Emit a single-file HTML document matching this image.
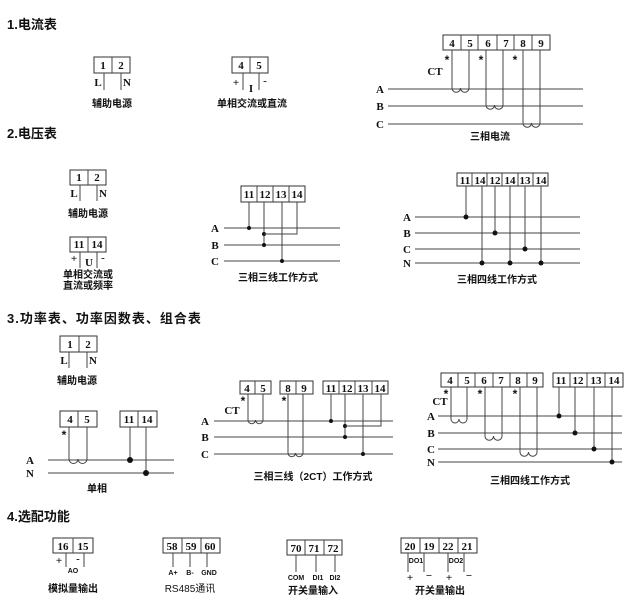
<!DOCTYPE html>
<html><head><meta charset="utf-8"><style>
html,body{margin:0;padding:0;background:#fff;}
svg{display:block;}
.t{font-family:"Liberation Sans","Noto Sans CJK SC",sans-serif;font-weight:bold;font-size:13px;fill:#111;}
.n{font-family:"Liberation Serif",serif;font-weight:bold;font-size:11px;fill:#111;text-anchor:middle;}
.a{font-family:"Liberation Sans",sans-serif;font-weight:bold;font-size:12px;fill:#111;text-anchor:middle;}
.c{font-family:"Liberation Sans","Noto Sans CJK SC",sans-serif;font-weight:bold;font-size:10px;fill:#111;text-anchor:middle;}
.s{font-family:"Liberation Sans",sans-serif;font-weight:bold;font-size:7px;fill:#111;text-anchor:middle;}
.b{fill:#fff;stroke:#333;stroke-width:1;}
.l{stroke:#444;stroke-width:1;fill:none;}
.d{fill:#111;}
</style></head><body>
<svg width="635" height="610" viewBox="0 0 635 610" xmlns="http://www.w3.org/2000/svg">
<text class="t" x="7" y="29">1.电流表</text>
<text class="t" x="7" y="138">2.电压表</text>
<text class="t" x="7" y="323" letter-spacing="1">3.功率表、功率因数表、组合表</text>
<text class="t" x="7" y="521">4.选配功能</text>

<rect class="b" x="94" y="57" width="36" height="16"/><line class="l" x1="112" y1="57" x2="112" y2="73"/>
<text class="n" x="103" y="69">1</text><text class="n" x="121" y="69">2</text>
<line class="l" x1="104" y1="73" x2="104" y2="90"/><line class="l" x1="121" y1="73" x2="121" y2="90"/>
<text class="n" x="98" y="86">L</text><text class="n" x="127" y="86">N</text>
<text class="c" x="112" y="107">辅助电源</text>
<rect class="b" x="232" y="57" width="36" height="16"/><line class="l" x1="250" y1="57" x2="250" y2="73"/>
<text class="n" x="241" y="69">4</text><text class="n" x="259" y="69">5</text>
<line class="l" x1="243" y1="73" x2="243" y2="90"/><line class="l" x1="259" y1="73" x2="259" y2="90"/>
<text class="n" x="236" y="86">+</text><text class="n" x="251" y="92">I</text><text class="n" x="265" y="84">-</text>
<text class="c" x="252" y="107">单相交流或直流</text>
<rect class="b" x="443" y="35" width="107" height="15"/>
<line class="l" x1="461" y1="35" x2="461" y2="50"/><line class="l" x1="478" y1="35" x2="478" y2="50"/><line class="l" x1="497" y1="35" x2="497" y2="50"/><line class="l" x1="514" y1="35" x2="514" y2="50"/><line class="l" x1="532" y1="35" x2="532" y2="50"/>
<text class="n" x="452" y="47">4</text><text class="n" x="470" y="47">5</text><text class="n" x="488" y="47">6</text><text class="n" x="506" y="47">7</text><text class="n" x="523" y="47">8</text><text class="n" x="541" y="47">9</text>
<text class="a" x="447" y="64">*</text><text class="a" x="481" y="64">*</text><text class="a" x="515" y="64">*</text>
<text class="n" x="435" y="75">CT</text>
<line class="l" x1="388" y1="89" x2="583" y2="89"/><line class="l" x1="388" y1="106" x2="583" y2="106"/><line class="l" x1="388" y1="124" x2="583" y2="124"/>
<text class="n" x="380" y="93">A</text><text class="n" x="380" y="110">B</text><text class="n" x="380" y="128">C</text>
<path class="l" d="M452 50 V88 a4.25 4.25 0 0 0 8.5 0 a4.25 4.25 0 0 0 8.5 0 V50"/>
<path class="l" d="M486 50 V105 a4.25 4.25 0 0 0 8.5 0 a4.25 4.25 0 0 0 8.5 0 V50"/>
<path class="l" d="M523 50 V123 a4.25 4.25 0 0 0 8.5 0 a4.25 4.25 0 0 0 8.5 0 V50"/>
<text class="c" x="490" y="140">三相电流</text>

<rect class="b" x="70" y="170" width="36" height="15"/><line class="l" x1="88" y1="170" x2="88" y2="185"/>
<text class="n" x="79" y="181">1</text><text class="n" x="97" y="181">2</text>
<line class="l" x1="80" y1="185" x2="80" y2="201"/><line class="l" x1="97" y1="185" x2="97" y2="201"/>
<text class="n" x="74" y="197">L</text><text class="n" x="103" y="197">N</text>
<text class="c" x="88" y="217">辅助电源</text>
<rect class="b" x="70" y="237" width="36" height="15"/><line class="l" x1="88" y1="237" x2="88" y2="252"/>
<text class="n" x="79" y="248">11</text><text class="n" x="97" y="248">14</text>
<line class="l" x1="80" y1="252" x2="80" y2="268"/><line class="l" x1="97" y1="252" x2="97" y2="268"/>
<text class="n" x="74" y="262">+</text><text class="n" x="89" y="266">U</text><text class="n" x="103" y="261">-</text>
<text class="c" x="88" y="278">单相交流或</text><text class="c" x="88" y="289">直流或频率</text>
<rect class="b" x="241" y="186" width="64" height="16"/>
<line class="l" x1="257" y1="186" x2="257" y2="202"/><line class="l" x1="273" y1="186" x2="273" y2="202"/><line class="l" x1="289" y1="186" x2="289" y2="202"/>
<text class="n" x="249" y="198">11</text><text class="n" x="265" y="198">12</text><text class="n" x="281" y="198">13</text><text class="n" x="297" y="198">14</text>
<line class="l" x1="224" y1="228" x2="340" y2="228"/><line class="l" x1="224" y1="245" x2="340" y2="245"/><line class="l" x1="224" y1="261" x2="340" y2="261"/>
<text class="n" x="215" y="232">A</text><text class="n" x="215" y="249">B</text><text class="n" x="215" y="265">C</text>
<line class="l" x1="249" y1="202" x2="249" y2="228"/><circle class="d" cx="249" cy="228" r="2"/>
<line class="l" x1="264" y1="202" x2="264" y2="245"/><circle class="d" cx="264" cy="234" r="2"/><circle class="d" cx="264" cy="245" r="2"/>
<path class="l" d="M297 202 V234 H264"/>
<line class="l" x1="282" y1="202" x2="282" y2="261"/><circle class="d" cx="282" cy="261" r="2"/>
<text class="c" x="278" y="281">三相三线工作方式</text>
<rect class="b" x="457" y="173" width="91" height="13"/>
<line class="l" x1="472" y1="173" x2="472" y2="186"/><line class="l" x1="487" y1="173" x2="487" y2="186"/><line class="l" x1="502" y1="173" x2="502" y2="186"/><line class="l" x1="518" y1="173" x2="518" y2="186"/><line class="l" x1="533" y1="173" x2="533" y2="186"/>
<text class="n" x="465" y="184">11</text><text class="n" x="480" y="184">14</text><text class="n" x="495" y="184">12</text><text class="n" x="510" y="184">14</text><text class="n" x="525" y="184">13</text><text class="n" x="541" y="184">14</text>
<line class="l" x1="415" y1="217" x2="580" y2="217"/><line class="l" x1="415" y1="233" x2="580" y2="233"/><line class="l" x1="415" y1="249" x2="580" y2="249"/><line class="l" x1="415" y1="263" x2="580" y2="263"/>
<text class="n" x="407" y="221">A</text><text class="n" x="407" y="237">B</text><text class="n" x="407" y="253">C</text><text class="n" x="407" y="267">N</text>
<line class="l" x1="466" y1="186" x2="466" y2="217"/><circle class="d" cx="466" cy="217" r="2.5"/>
<line class="l" x1="482" y1="186" x2="482" y2="263"/><circle class="d" cx="482" cy="263" r="2.5"/>
<line class="l" x1="495" y1="186" x2="495" y2="233"/><circle class="d" cx="495" cy="233" r="2.5"/>
<line class="l" x1="510" y1="186" x2="510" y2="263"/><circle class="d" cx="510" cy="263" r="2.5"/>
<line class="l" x1="525" y1="186" x2="525" y2="249"/><circle class="d" cx="525" cy="249" r="2.5"/>
<line class="l" x1="541" y1="186" x2="541" y2="263"/><circle class="d" cx="541" cy="263" r="2.5"/>
<text class="c" x="497" y="283">三相四线工作方式</text>

<rect class="b" x="60" y="336" width="37" height="16"/><line class="l" x1="79" y1="336" x2="79" y2="352"/>
<text class="n" x="70" y="348">1</text><text class="n" x="88" y="348">2</text>
<line class="l" x1="69" y1="352" x2="69" y2="368"/><line class="l" x1="87" y1="352" x2="87" y2="368"/>
<text class="n" x="64" y="364">L</text><text class="n" x="93" y="364">N</text>
<text class="c" x="77" y="384">辅助电源</text>
<rect class="b" x="60" y="411" width="37" height="16"/><line class="l" x1="78" y1="411" x2="78" y2="427"/>
<text class="n" x="70" y="423">4</text><text class="n" x="87" y="423">5</text>
<rect class="b" x="120" y="411" width="37" height="16"/><line class="l" x1="138" y1="411" x2="138" y2="427"/>
<text class="n" x="129" y="423">11</text><text class="n" x="147" y="423">14</text>
<text class="a" x="64" y="439">*</text>
<line class="l" x1="48" y1="460" x2="174" y2="460"/><line class="l" x1="48" y1="473" x2="174" y2="473"/>
<text class="n" x="30" y="464" font-size="12">A</text><text class="n" x="30" y="477" font-size="12">N</text>
<path class="l" d="M69 427 V459 a4.5 4.5 0 0 0 9 0 a4.5 4.5 0 0 0 9 0 V427"/>
<line class="l" x1="130" y1="427" x2="130" y2="460"/><circle class="d" cx="130" cy="460" r="3"/>
<line class="l" x1="146" y1="427" x2="146" y2="473"/><circle class="d" cx="146" cy="473" r="3"/>
<text class="c" x="97" y="492">单相</text>
<rect class="b" x="240" y="381" width="31" height="13"/><line class="l" x1="255" y1="381" x2="255" y2="394"/>
<text class="n" x="247" y="392">4</text><text class="n" x="263" y="392">5</text>
<rect class="b" x="280" y="381" width="33" height="13"/><line class="l" x1="296" y1="381" x2="296" y2="394"/>
<text class="n" x="288" y="392">8</text><text class="n" x="304" y="392">9</text>
<rect class="b" x="323" y="381" width="65" height="13"/>
<line class="l" x1="339" y1="381" x2="339" y2="394"/><line class="l" x1="355" y1="381" x2="355" y2="394"/><line class="l" x1="372" y1="381" x2="372" y2="394"/>
<text class="n" x="331" y="392">11</text><text class="n" x="347" y="392">12</text><text class="n" x="363" y="392">13</text><text class="n" x="380" y="392">14</text>
<text class="a" x="243" y="405">*</text><text class="a" x="284" y="405">*</text>
<text class="n" x="232" y="414">CT</text>
<line class="l" x1="214" y1="421" x2="393" y2="421"/><line class="l" x1="214" y1="437" x2="393" y2="437"/><line class="l" x1="214" y1="454" x2="393" y2="454"/>
<text class="n" x="205" y="425">A</text><text class="n" x="205" y="441">B</text><text class="n" x="205" y="458">C</text>
<path class="l" d="M248 394 V420 a3.75 3.75 0 0 0 7.5 0 a3.75 3.75 0 0 0 7.5 0 V394"/>
<path class="l" d="M288 394 V453 a3.75 3.75 0 0 0 7.5 0 a3.75 3.75 0 0 0 7.5 0 V394"/>
<line class="l" x1="331" y1="394" x2="331" y2="421"/><circle class="d" cx="331" cy="421" r="2"/>
<line class="l" x1="345" y1="394" x2="345" y2="437"/><circle class="d" cx="345" cy="426" r="2"/><circle class="d" cx="345" cy="437" r="2"/>
<path class="l" d="M381 394 V426 H345"/>
<line class="l" x1="363" y1="394" x2="363" y2="454"/><circle class="d" cx="363" cy="454" r="2"/>
<text class="c" x="313" y="480">三相三线（2CT）工作方式</text>
<rect class="b" x="441" y="373" width="102" height="14"/>
<line class="l" x1="458" y1="373" x2="458" y2="387"/><line class="l" x1="475" y1="373" x2="475" y2="387"/><line class="l" x1="493" y1="373" x2="493" y2="387"/><line class="l" x1="510" y1="373" x2="510" y2="387"/><line class="l" x1="527" y1="373" x2="527" y2="387"/>
<text class="n" x="450" y="384">4</text><text class="n" x="467" y="384">5</text><text class="n" x="484" y="384">6</text><text class="n" x="501" y="384">7</text><text class="n" x="518" y="384">8</text><text class="n" x="535" y="384">9</text>
<rect class="b" x="553" y="373" width="70" height="14"/>
<line class="l" x1="570" y1="373" x2="570" y2="387"/><line class="l" x1="587" y1="373" x2="587" y2="387"/><line class="l" x1="605" y1="373" x2="605" y2="387"/>
<text class="n" x="561" y="384">11</text><text class="n" x="578" y="384">12</text><text class="n" x="596" y="384">13</text><text class="n" x="614" y="384">14</text>
<text class="a" x="446" y="398">*</text><text class="a" x="480" y="398">*</text><text class="a" x="515" y="398">*</text>
<text class="n" x="440" y="405">CT</text>
<line class="l" x1="438" y1="416" x2="622" y2="416"/><line class="l" x1="438" y1="433" x2="622" y2="433"/><line class="l" x1="438" y1="449" x2="622" y2="449"/><line class="l" x1="438" y1="462" x2="622" y2="462"/>
<text class="n" x="431" y="420">A</text><text class="n" x="431" y="437">B</text><text class="n" x="431" y="453">C</text><text class="n" x="431" y="466">N</text>
<path class="l" d="M451 387 V419 a4 4 0 0 0 8 0 a4 4 0 0 0 8 0 V387"/>
<path class="l" d="M485 387 V436 a4.25 4.25 0 0 0 8.5 0 a4.25 4.25 0 0 0 8.5 0 V387"/>
<path class="l" d="M520 387 V452 a4.25 4.25 0 0 0 8.5 0 a4.25 4.25 0 0 0 8.5 0 V387"/>
<line class="l" x1="559" y1="387" x2="559" y2="416"/><circle class="d" cx="559" cy="416" r="2.5"/>
<line class="l" x1="575" y1="387" x2="575" y2="433"/><circle class="d" cx="575" cy="433" r="2.5"/>
<line class="l" x1="594" y1="387" x2="594" y2="449"/><circle class="d" cx="594" cy="449" r="2.5"/>
<line class="l" x1="612" y1="387" x2="612" y2="462"/><circle class="d" cx="612" cy="462" r="2.5"/>
<text class="c" x="530" y="484">三相四线工作方式</text>

<rect class="b" x="53" y="538" width="40" height="15"/><line class="l" x1="73" y1="538" x2="73" y2="553"/>
<text class="n" x="63" y="550">16</text><text class="n" x="83" y="550">15</text>
<line class="l" x1="66" y1="553" x2="66" y2="567"/><line class="l" x1="84" y1="553" x2="84" y2="567"/>
<text class="n" x="59" y="564">+</text><text class="n" x="78" y="562">-</text><text class="s" x="73" y="573">AO</text>
<text class="c" x="73" y="592">模拟量输出</text>

<rect class="b" x="163" y="538" width="57" height="15"/><line class="l" x1="182" y1="538" x2="182" y2="553"/><line class="l" x1="201" y1="538" x2="201" y2="553"/>
<text class="n" x="172" y="550">58</text><text class="n" x="191" y="550">59</text><text class="n" x="210" y="550">60</text>
<line class="l" x1="173" y1="553" x2="173" y2="567"/><line class="l" x1="190" y1="553" x2="190" y2="567"/><line class="l" x1="207" y1="553" x2="207" y2="567"/>
<text class="s" x="173" y="575">A+</text><text class="s" x="190" y="575">B-</text><text class="s" x="209" y="575">GND</text>
<text class="c" x="190" y="592" style="font-weight:normal">RS485通讯</text>

<rect class="b" x="287" y="540" width="55" height="15"/><line class="l" x1="305" y1="540" x2="305" y2="555"/><line class="l" x1="324" y1="540" x2="324" y2="555"/>
<text class="n" x="296" y="552">70</text><text class="n" x="314" y="552">71</text><text class="n" x="333" y="552">72</text>
<line class="l" x1="296" y1="555" x2="296" y2="572"/><line class="l" x1="316" y1="555" x2="316" y2="572"/><line class="l" x1="335" y1="555" x2="335" y2="572"/>
<text class="s" x="296" y="580">COM</text><text class="s" x="318" y="580">DI1</text><text class="s" x="335" y="580">DI2</text>
<text class="c" x="313" y="594">开关量输入</text>

<rect class="b" x="401" y="538" width="76" height="15"/><line class="l" x1="420" y1="538" x2="420" y2="553"/><line class="l" x1="439" y1="538" x2="439" y2="553"/><line class="l" x1="458" y1="538" x2="458" y2="553"/>
<text class="n" x="410" y="550">20</text><text class="n" x="429" y="550">19</text><text class="n" x="448" y="550">22</text><text class="n" x="467" y="550">21</text>
<line class="l" x1="408" y1="553" x2="408" y2="572"/><line class="l" x1="424" y1="553" x2="424" y2="572"/><line class="l" x1="448" y1="553" x2="448" y2="572"/><line class="l" x1="464" y1="553" x2="464" y2="572"/>
<text class="s" x="416" y="563">DO1</text><text class="s" x="456" y="563">DO2</text>
<text class="n" x="410" y="581">+</text><text class="n" x="429" y="579">−</text><text class="n" x="449" y="581">+</text><text class="n" x="469" y="579">−</text>
<text class="c" x="440" y="594">开关量输出</text>
</svg>
</body></html>
